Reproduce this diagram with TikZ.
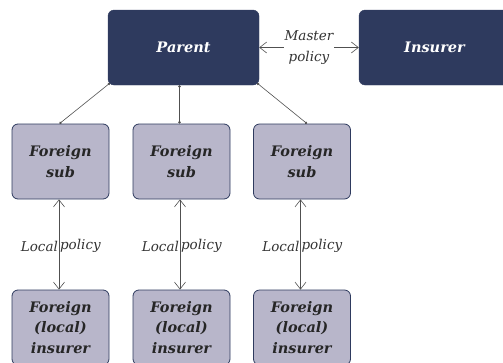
\documentclass[tikz,border=0pt]{standalone}
\usepackage{fontspec}
\setmainfont{DejaVu Serif}
\usetikzlibrary{arrows.meta}
\definecolor{navy}{HTML}{2E3A5E}
\definecolor{lilac}{HTML}{B8B6CA}
\definecolor{wire}{HTML}{505050}

\begin{document}
\begin{tikzpicture}[x=1pt, y=-1pt,
    darkbox/.style={draw=navy, fill=navy, rounded corners=6pt, minimum width=151pt, minimum height=75pt,
      text=white, font=\bfseries\itshape\fontsize{14.5}{20}\selectfont},
    lightbox/.style={draw=navy, fill=lilac, line width=0.8pt, rounded corners=6pt, minimum width=97pt,
      minimum height=75pt, inner sep=1pt, text=black!85, align=center,
      font=\bfseries\itshape\fontsize{14.5}{20.5}\selectfont},
    link/.style={draw=wire, line width=0.6pt},
    policy/.style={link, {Straight Barb[length=7pt,width=11pt]}-{Straight Barb[length=7pt,width=11pt]}},
    dotlink/.style={link, {Circle[length=2.5pt]}-{Circle[length=2.5pt]}},
    lbl/.style={font=\itshape\fontsize{13.5}{21}\selectfont, text=black!80}
  ]
    \useasboundingbox (0,0) rectangle (503,362);

    % Top row
    \node[darkbox] (parent) at (183.5,47.5) {Parent};
    \node[darkbox] (insurer) at (434.5,47.5) {Insurer};
    \draw[policy] (parent.east) -- (insurer.west)
      node[midway, lbl, fill=white, align=center, inner sep=1pt] {Master\\policy};

    % Foreign subs
    \node[lightbox] (sub1) at (60.5,161.5) {Foreign\\sub};
    \node[lightbox] (sub2) at (181.5,161.5) {Foreign\\sub};
    \node[lightbox] (sub3) at (302,161.5) {Foreign\\sub};

    % Local insurers
    \node[lightbox] (loc1) at (60.5,327.5) {Foreign\\(local)\\insurer};
    \node[lightbox] (loc2) at (181.5,327.5) {Foreign\\(local)\\insurer};
    \node[lightbox] (loc3) at (302,327.5) {Foreign\\(local)\\insurer};

    % Ownership lines
    \draw[dotlink] ([xshift=2pt,yshift=2pt]parent.south west) -- ([xshift=-1pt]sub1.north);
    \draw[dotlink] ([xshift=-2pt]sub2.north |- parent.south) -- ([xshift=-2pt]sub2.north);
    \draw[dotlink] ([xshift=-2pt,yshift=2pt]parent.south east) -- ([xshift=5pt]sub3.north);

    % Local policies
    \foreach \i in {1,2,3} {
      \draw[policy] ([xshift=-1.5pt]sub\i.south) -- ([xshift=-1.5pt]loc\i.north)
        node[pos=0.52, lbl, left, inner sep=0.8pt] {Local}
        node[pos=0.52, lbl, right, inner sep=0.8pt] {policy};
    }
\end{tikzpicture}
\end{document}
